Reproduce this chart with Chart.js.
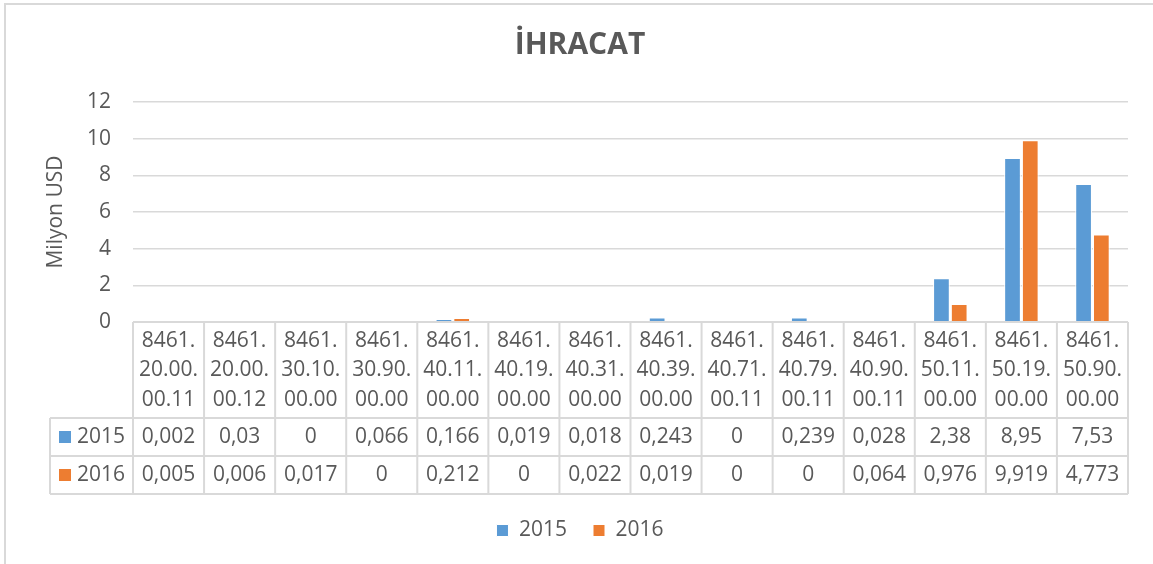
<!DOCTYPE html>
<html>
<head>
<meta charset="utf-8">
<script src="https://cdn.jsdelivr.net/npm/chart.js@4"></script>
<style>
  body { margin: 0; background: #fff; }
  .wrap { position: relative; width: 1153px; height: 564px; overflow: hidden; }
  .frame { position: absolute; left: 4px; top: 3px; width: 1200px; height: 620px; border: 2px solid #d9d9d9; box-sizing: border-box; }
  canvas { position: absolute; left: 0; top: 0; }
</style>
</head>
<body>
<div class="wrap">
  <div class="frame"></div>
  <canvas id="myChart" width="1153" height="564"></canvas>
</div>
<script>
const categories = [
    '8461.20.00.00.11', '8461.20.00.00.12', '8461.30.10.00.00', '8461.30.90.00.00',
    '8461.40.11.00.00', '8461.40.19.00.00', '8461.40.31.00.00', '8461.40.39.00.00',
    '8461.40.71.00.11', '8461.40.79.00.11', '8461.40.90.00.11', '8461.50.11.00.00',
    '8461.50.19.00.00', '8461.50.90.00.00'
];
const values2015 = [0.002, 0.03, 0, 0.066, 0.166, 0.019, 0.018, 0.243, 0, 0.239, 0.028, 2.38, 8.95, 7.53];
const values2016 = [0.005, 0.006, 0.017, 0, 0.212, 0, 0.022, 0.019, 0, 0, 0.064, 0.976, 9.919, 4.773];
const seriesNames = ['2015', '2016'];
const seriesColors = ['#5B9BD5', '#ED7D31'];
const yTicks = [0, 2, 4, 6, 8, 10, 12];

const FONT = '"Open Sans", "Noto Sans", sans-serif';
const TEXT = '#595959';
const LINE = '#d9d9d9';

// kategori adını 3 satıra böl: "8461." / "20.00." / "00.11"
function splitLabel(s) {
    const m = s.match(/^(\d+\.)(\d+\.\d+\.)(.+)$/);
    return m ? [m[1], m[2], m[3]] : [s];
}
const fmt = v => String(v).replace('.', ',');

// veri tablosu (Excel "data table")
const dataTable = {
    id: 'dataTable',
    afterDraw(chart) {
        const c = chart.ctx;
        const xs = chart.scales.x;
        const area = chart.chartArea;
        const n = categories.length;
        const w = (area.right - area.left) / n;
        const top = area.bottom;
        const hdrBottom = top + 96;
        const r1 = hdrBottom + 38;
        const r2 = r1 + 38;
        const legLeft = 50;

        c.save();
        c.strokeStyle = LINE;
        c.lineWidth = 2;
        c.beginPath();
        c.moveTo(area.left, top); c.lineTo(area.right, top);
        [hdrBottom, r1, r2].forEach(y => { c.moveTo(legLeft, y); c.lineTo(area.right, y); });
        for (let i = 0; i <= n; i++) {
            const x = xs.getPixelForTick(Math.min(i, n - 1)) + (i === n ? w / 2 : -w / 2);
            c.moveTo(x, top); c.lineTo(x, r2);
        }
        c.moveTo(legLeft, hdrBottom); c.lineTo(legLeft, r2);
        c.stroke();

        c.fillStyle = TEXT;
        c.font = '21px ' + FONT;
        c.textAlign = 'center';
        c.textBaseline = 'middle';
        categories.forEach((cat, i) => {
            const x = xs.getPixelForTick(i);
            splitLabel(cat).forEach((ln, k) => c.fillText(ln, x, top + 19 + k * 29.5));
            c.fillText(fmt(values2015[i]), x, (hdrBottom + r1) / 2);
            c.fillText(fmt(values2016[i]), x, (r1 + r2) / 2);
        });

        const rows = [(hdrBottom + r1) / 2, (r1 + r2) / 2];
        rows.forEach((y, k) => {
            c.fillStyle = seriesColors[k];
            c.fillRect(59, y - 6, 12, 12);
            c.fillStyle = TEXT;
            c.textAlign = 'left';
            c.fillText(seriesNames[k], 77, y);
        });
        c.restore();
    }
};

new Chart(document.getElementById('myChart'), {
    type: 'bar',
    data: {
        labels: categories,
        datasets: [{
            label: seriesNames[0],
            data: values2015,
            backgroundColor: seriesColors[0],
            borderColor: '#ffffff',
            borderWidth: 1
        }, {
            label: seriesNames[1],
            data: values2016,
            backgroundColor: seriesColors[1],
            borderColor: '#ffffff',
            borderWidth: 1
        }]
    },
    options: {
        responsive: false,
        animation: false,
        categoryPercentage: 0.5,
        barPercentage: 0.94,
        layout: { padding: { left: 32, right: 25, top: 0, bottom: 13 } },
        plugins: {
            title: {
                display: true,
                text: 'İHRACAT',
                color: TEXT,
                font: { family: FONT, size: 30, weight: 'bold' },
                padding: { top: 27, bottom: 39 }
            },
            legend: {
                position: 'bottom',
                labels: {
                    color: TEXT,
                    font: { family: FONT, size: 21 },
                    boxWidth: 12,
                    boxHeight: 12,
                    padding: 26
                }
            },
            tooltip: { enabled: false }
        },
        scales: {
            x: {
                grid: { display: false },
                border: { display: false },
                ticks: { display: false },
                afterFit(scale) { scale.height = 172; }
            },
            y: {
                min: 0,
                max: 12,
                afterBuildTicks(scale) { scale.ticks = yTicks.map(v => ({ value: v })); },
                afterFit(scale) { scale.width = 101; },
                grid: { color: LINE, lineWidth: 1.5, drawTicks: false },
                border: { display: false },
                ticks: {
                    color: TEXT,
                    font: { family: FONT, size: 21 },
                    padding: 22
                },
                title: {
                    display: true,
                    text: 'Milyon USD',
                    color: TEXT,
                    font: { family: FONT, size: 21 },
                    padding: { top: 11, bottom: 0 }
                }
            }
        }
    },
    plugins: [dataTable]
});
</script>
</body>
</html>
